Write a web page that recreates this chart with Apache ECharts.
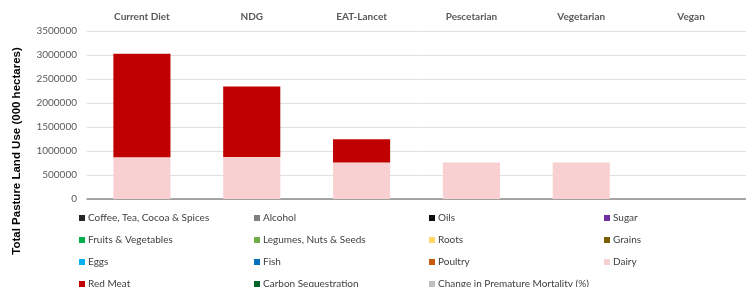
<!DOCTYPE html>
<html lang="en" style="height: 100%">
<head>
    <meta charset="UTF-8">
    <title>Total Pasture Land Use</title>
    <script src="https://cdn.jsdelivr.net/npm/echarts@6/dist/echarts.min.js"></script>
</head>
<body style="height: 100%; margin: 0">
<div id="main" style="width: 746px; height: 287px"></div>
<script>
    var diets = ['Current Diet', 'NDG', 'EAT-Lancet', 'Pescetarian', 'Vegetarian', 'Vegan'];
    var dairy = [868000, 875000, 763000, 763000, 763000, 0];
    var redMeat = [2157000, 1470000, 482000, 0, 0, 0];

    // legend entries, in row order (4 per row)
    var legendItems = [
        'Coffee, Tea, Cocoa & Spices', 'Alcohol', 'Oils', 'Sugar',
        'Fruits & Vegetables', 'Legumes, Nuts & Seeds', 'Roots', 'Grains',
        'Eggs', 'Fish', 'Poultry', 'Dairy',
        'Red Meat', 'Carbon Sequestration', 'Change in Premature Mortality (%)'
    ];
    var colors = {
        'Coffee, Tea, Cocoa & Spices': '#262626',
        'Alcohol': '#7f7f7f',
        'Oils': '#0d0d0d',
        'Sugar': '#7030a0',
        'Fruits & Vegetables': '#00b050',
        'Legumes, Nuts & Seeds': '#70ad47',
        'Roots': '#ffd966',
        'Grains': '#7f6000',
        'Eggs': '#00b0f0',
        'Fish': '#0070c0',
        'Poultry': '#c55a11',
        'Dairy': '#f9d0d2',
        'Red Meat': '#c00000',
        'Carbon Sequestration': '#00642b',
        'Change in Premature Mortality (%)': '#bfbfbf'
    };
    var values = {'Dairy': dairy, 'Red Meat': redMeat};

    var series = legendItems.map(function (name) {
        return {
            name: name,
            type: 'bar',
            stack: 'total',
            barWidth: '52%',
            itemStyle: {color: colors[name]},
            data: values[name] || []
        };
    });

    var colLeft = [79, 254, 429, 604];
    var rowTop = [213, 235, 257, 279];
    var legends = legendItems.map(function (name, i) {
        return {
            left: colLeft[i % 4],
            top: rowTop[Math.floor(i / 4)],
            padding: 0,
            itemWidth: 6,
            itemHeight: 6,
            icon: 'rect',
            selectedMode: false,
            textStyle: {fontFamily: 'Lato', fontSize: 10, color: '#404040', padding: [0, 0, 0, -2]},
            data: [name]
        };
    });

    var myChart = echarts.init(document.getElementById('main'));
    myChart.setOption({
        animation: false,
        grid: {left: 87, right: -13, top: 31, bottom: 88},
        legend: legends,
        xAxis: [{
            type: 'category',
            position: 'top',
            data: diets,
            axisLine: {show: false},
            axisTick: {show: false},
            axisLabel: {
                margin: 9,
                fontFamily: 'Lato',
                fontWeight: 'bold',
                fontSize: 10,
                color: '#595959'
            }
        }, {
            type: 'category',
            position: 'bottom',
            data: diets,
            axisLine: {lineStyle: {color: '#8c8c8c', width: 1.5}},
            axisTick: {show: false},
            axisLabel: {show: false}
        }],
        yAxis: {
            type: 'value',
            min: 0,
            max: 3500000,
            interval: 500000,
            axisLine: {show: false},
            axisTick: {show: false},
            axisLabel: {
                fontFamily: 'Lato',
                fontSize: 10,
                color: '#595959',
                margin: 10,
                formatter: function (v) { return String(v); }
            },
            splitLine: {lineStyle: {color: '#e0e0e0'}}
        },
        graphic: [{
            type: 'text',
            x: 17,
            y: 151,
            rotation: Math.PI / 2,
            style: {
                text: 'Total Pasture Land Use (000 hectares)',
                font: 'bold 11.5px "Liberation Sans"',
                fill: '#000',
                align: 'center',
                verticalAlign: 'middle'
            }
        }],
        series: series
    });
</script>
</body>
</html>
